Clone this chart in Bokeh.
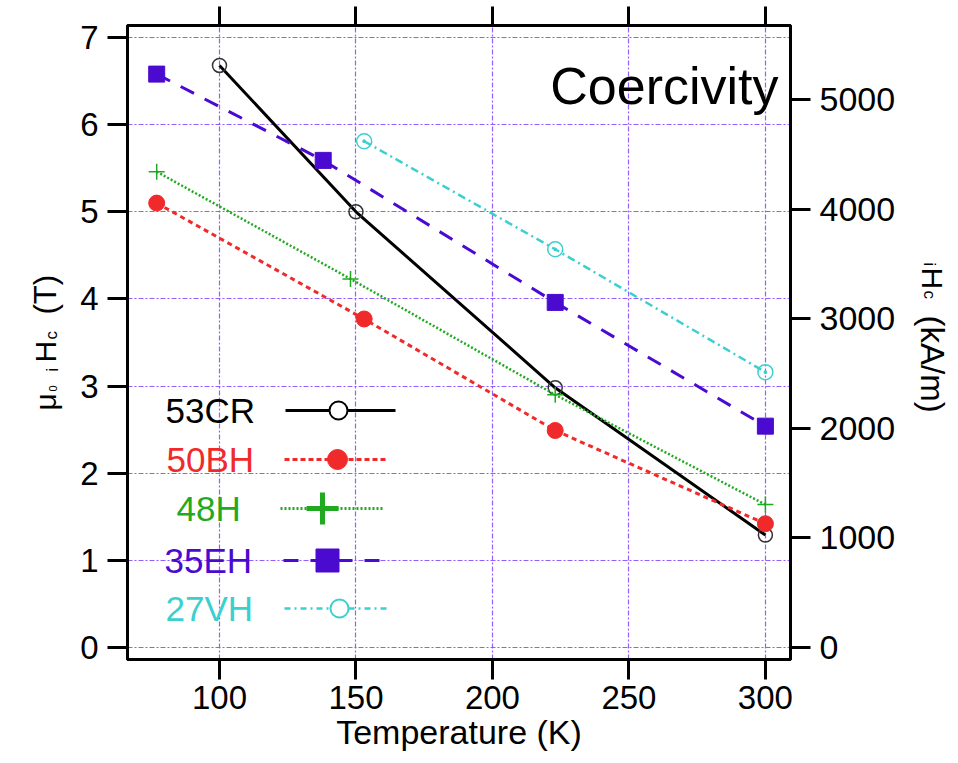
import math
from bokeh.plotting import figure
from bokeh.layouts import row
from bokeh.models import Range1d, LinearAxis, FixedTicker, Label
from bokeh.embed import file_html
from bokeh.resources import INLINE

# ---------------- data ----------------
x_ticks = [100, 150, 200, 250, 300]
y_ticks = [0, 1, 2, 3, 4, 5, 6, 7]
kam_ticks = [0, 1000, 2000, 3000, 4000, 5000]
MU0_KAM = 795.775  # kA/m per tesla

series_names = ["53CR", "50BH", "48H", "35EH", "27VH"]

temp_53CR = [100, 150, 223, 300]
hc_53CR = [6.68, 5.00, 2.98, 1.29]

temp_50BH = [77, 153, 223, 300]
hc_50BH = [5.10, 3.77, 2.49, 1.42]

temp_48H = [77, 148, 223, 300]
hc_48H = [5.46, 4.23, 2.90, 1.64]

temp_35EH = [77, 138, 223, 300]
hc_35EH = [6.58, 5.59, 3.96, 2.54]

temp_27VH = [153, 223, 300]
hc_27VH = [5.81, 4.57, 3.16]

# ---------------- layout geometry (canvas px) ----------------
FONT = "Liberation Sans"
W, H = 958, 763
LW, RW = 65, 45                 # side strips holding the rotated axis titles
FL, FR, FT, FB = 127, 790, 25, 659  # frame edges

MW = W - LW - RW
fig = figure(width=MW, height=H, output_backend="svg", toolbar_location=None,
             x_range=Range1d(66.3, 309.2), y_range=Range1d(-0.138, 7.138),
             min_border_left=FL - LW, min_border_right=(W - RW) - FR,
             min_border_top=FT, min_border_bottom=H - FB,
             background_fill_color="white", border_fill_color="white")
fig.extra_x_ranges = {"px": Range1d(FL, FR)}
fig.extra_y_ranges = {"px": Range1d(FB, FT),
                      "kam": Range1d(-0.138 * MU0_KAM, 7.138 * MU0_KAM)}

fig.outline_line_color = "black"
fig.outline_line_width = 3
fig.outline_line_alpha = 1

bottom_ax = fig.below[0]
left_ax = fig.left[0]
right_ax = LinearAxis(y_range_name="kam", ticker=FixedTicker(ticks=kam_ticks))
fig.add_layout(right_ax, "right")
top_ax = LinearAxis(ticker=FixedTicker(ticks=x_ticks))
fig.add_layout(top_ax, "above")

bottom_ax.ticker = FixedTicker(ticks=x_ticks)
left_ax.ticker = FixedTicker(ticks=y_ticks)

for ax in [bottom_ax, left_ax, right_ax, top_ax]:
    ax.axis_line_color = "black"
    ax.axis_line_width = 3
    ax.major_tick_line_color = "black"
    ax.major_tick_line_width = 3
    ax.major_tick_out = 20
    ax.major_tick_in = 0
    ax.minor_tick_out = 0
    ax.minor_tick_in = 0
    ax.major_label_text_font = FONT
    ax.major_label_text_font_size = "33px"
    ax.major_label_text_color = "black"
    ax.major_label_standoff = 9
right_ax.major_label_text_font_size = "34px"
top_ax.major_label_text_font_size = "1px"
top_ax.major_label_text_alpha = 0
top_ax.major_label_standoff = 0
top_ax.major_tick_out = 19

bottom_ax.major_label_standoff = 6
bottom_ax.axis_label = "Temperature (K)"
bottom_ax.axis_label_text_font = FONT
bottom_ax.axis_label_text_font_size = "34px"
bottom_ax.axis_label_text_font_style = "normal"
bottom_ax.axis_label_text_color = "black"
bottom_ax.axis_label_standoff = 1

GRID = "#8a4cff"
fig.xgrid.ticker = FixedTicker(ticks=x_ticks)
fig.ygrid.ticker = FixedTicker(ticks=y_ticks)
for g in [fig.xgrid, fig.ygrid]:
    g.grid_line_color = GRID
    g.grid_line_width = 1.2
    g.grid_line_dash = "5 2 2 2"
    g.grid_line_alpha = 0.9

BLACK, RED, GREEN, PURPLE, CYAN = "black", "#f02a2a", "#1faa1f", "#4a0ad0", "#3ccfd0"

# ---------------- series ----------------
fig.line(temp_53CR, hc_53CR, line_color=BLACK, line_width=3)
fig.scatter(temp_53CR, hc_53CR, marker="circle", size=14, fill_color=None,
            line_color="#333333", line_width=1.5)

fig.line(temp_50BH, hc_50BH, line_color=RED, line_width=3, line_dash="5 4")
fig.scatter(temp_50BH, hc_50BH, marker="circle", size=16, fill_color=RED, line_color=RED)

fig.line(temp_48H, hc_48H, line_color=GREEN, line_width=2.5, line_dash="2 2")
fig.scatter(temp_48H, hc_48H, marker="cross", size=16, line_color=GREEN, line_width=1.5)

fig.line(temp_35EH, hc_35EH, line_color=PURPLE, line_width=3, line_dash="15 12")
fig.scatter(temp_35EH, hc_35EH, marker="square", size=16, fill_color=PURPLE, line_color=PURPLE)

fig.line(temp_27VH, hc_27VH, line_color=CYAN, line_width=2.5, line_dash="8 4 2 4")
fig.scatter(temp_27VH, hc_27VH, marker="circle_dot", size=15, fill_color=None,
            line_color=CYAN, line_width=1.5)

# ---------------- hand-made legend (canvas px via "px" ranges) ----------------
legend_rows = [
    # name, color, text x, y, line x0, x1, marker x, dash, lw, marker, msize, fill, mlw
    ("53CR", BLACK, 165, 410, 285, 395, 338, "solid", 3, "circle", 18, "white", 2),
    ("50BH", RED, 166, 459, 284, 388, 337, "5 3", 3, "circle", 20, RED, 1),
    ("48H", GREEN, 176, 508, 280, 382, 322, "2 2", 3, "cross", 32, None, 5),
    ("35EH", PURPLE, 164, 560, 283, 388, 327, "15 12", 3, "square", 23, PURPLE, 1),
    ("27VH", CYAN, 165, 608, 284, 388, 339, "6 4 2 4", 2.5, "circle", 18, "white", 2),
]
for (name, col, tx, ty, lx0, lx1, mx, dash, lw, mk, ms, fc, mlw) in legend_rows:
    fig.line([lx0, lx1], [ty, ty], line_color=col, line_width=lw, line_dash=dash,
             x_range_name="px", y_range_name="px")
    fig.scatter([mx], [ty], marker=mk, size=ms, fill_color=fc, line_color=col,
                line_width=mlw, x_range_name="px", y_range_name="px")
    fig.add_layout(Label(x=tx, y=ty, text=name, x_range_name="px", y_range_name="px",
                         text_font=FONT, text_font_size="35px", text_color=col,
                         text_baseline="middle", text_align="left"))

fig.add_layout(Label(x=778, y=85, text="Coercivity", x_range_name="px", y_range_name="px",
                     text_font=FONT, text_font_size="52px", text_color="black",
                     text_align="right", text_baseline="alphabetic"))

# ---------------- side strips with the composite axis titles ----------------
# (a row aligns the strips' frames with the main frame: canvas y FT..FB)
def strip(x0, width):
    s = figure(width=width, height=H, output_backend="svg", toolbar_location=None,
               x_range=Range1d(x0, x0 + width), y_range=Range1d(FB, FT),
               x_axis_type=None, y_axis_type=None,
               min_border=0, min_border_left=0, min_border_right=0,
               min_border_top=0, min_border_bottom=0,
               background_fill_color="white", border_fill_color="white")
    s.outline_line_color = None
    s.grid.visible = False
    return s

def lab(s, x, y, text, size, angle):
    s.add_layout(Label(x=x, y=y, text=text, text_font=FONT, text_font_size=size,
                       text_color="black", angle=angle, text_align="left",
                       text_baseline="alphabetic"))

left_strip = strip(0, LW)
up = math.pi / 2
lab(left_strip, 45, 410, "\u03bc", "30px", up)
lab(left_strip, 52, 391, "0", "11px", up)
lab(left_strip, 52, 371, "i", "16px", up)
lab(left_strip, 45, 362, "H", "30px", up)
lab(left_strip, 51, 339, "c", "17px", up)
lab(left_strip, 45, 314, "(T)", "31px", up)

right_strip = strip(W - RW, RW)
down = -math.pi / 2
lab(right_strip, 929, 262, "i", "16px", down)
lab(right_strip, 932, 267, "H", "30px", down)
lab(right_strip, 929, 290, "c", "17px", down)
lab(right_strip, 932, 315, "(kA/m)", "33px", down)

p = row(left_strip, fig, right_strip)

open("out.html", "w").write(file_html(p, INLINE))
